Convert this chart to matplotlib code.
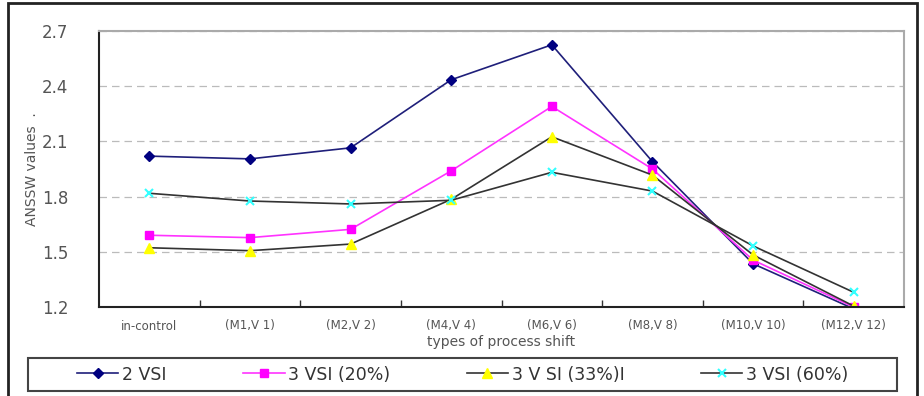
import numpy as np
import matplotlib.pyplot as plt
from matplotlib.patches import Rectangle

categories = ["in-control", "(M1,V 1)", "(M2,V 2)", "(M4,V 4)", "(M6,V 6)",
              "(M8,V 8)", "(M10,V 10)", "(M12,V 12)"]
vsi2 = [2.02, 2.005, 2.065, 2.435, 2.625, 1.99, 1.435, 1.19]
vsi3_20 = [1.59, 1.577, 1.622, 1.94, 2.29, 1.95, 1.455, 1.20]
vsi3_33 = [1.522, 1.506, 1.542, 1.785, 2.125, 1.917, 1.483, 1.205]
vsi3_60 = [1.818, 1.776, 1.76, 1.78, 1.932, 1.83, 1.532, 1.28]
labels = ["2 VSI", "3 VSI (20%)", "3 V SI (33%)I", "3 VSI (60%)"]

fig = plt.figure(figsize=(9.24, 3.96), dpi=100)
ax = fig.add_axes([99 / 924, 1 - 307 / 396, 805 / 924, 276 / 396])

x = np.arange(len(categories))
ax.plot(x, vsi2, color="#1f1f7a", lw=1.2, marker="D", ms=5,
        mfc="#000080", mec="#000080", label=labels[0])
ax.plot(x, vsi3_20, color="#ff33ff", lw=1.2, marker="s", ms=5.5,
        mfc="#ff00ff", mec="#ff00ff", label=labels[1])
ax.plot(x, vsi3_33, color="#333333", lw=1.2, marker="^", ms=6.5,
        mfc="#ffff00", mec="#ffff00", label=labels[2])
ax.plot(x, vsi3_60, color="#333333", lw=1.2, marker="x", ms=6, mew=1.5,
        mec="#33ffff", label=labels[3])

ax.set_xlim(-0.5, len(categories) - 0.5)
ax.set_ylim(1.2, 2.7)
ax.set_yticks([1.2, 1.5, 1.8, 2.1, 2.4, 2.7])
ax.set_yticklabels(["1.2", "1.5", "1.8", "2.1", "2.4", "2.7"])
ax.yaxis.grid(True, ls=(0, (6, 4)), color="#bbbbbb", lw=0.9)
ax.set_axisbelow(True)
ax.tick_params(axis="y", length=0, pad=22, labelsize=12, labelcolor="#555555")

# category labels at centres, tick marks between categories
ax.set_xticks(x)
ax.set_xticklabels(categories, fontsize=8.5, color="#555555")
ax.tick_params(axis="x", length=0, pad=9)
ax.set_xticks(np.arange(0.5, len(categories) - 1, 1), minor=True)
ax.tick_params(axis="x", which="minor", direction="in", length=5, width=1, color="#333333")

ax.spines["left"].set_color("#222222")
ax.spines["bottom"].set_color("#222222")
ax.spines["left"].set_linewidth(1.5)
ax.spines["bottom"].set_linewidth(1.5)
ax.spines["top"].set_color("#aaaaaa")
ax.spines["right"].set_color("#aaaaaa")
ax.spines["top"].set_linewidth(1.5)
ax.spines["right"].set_linewidth(1.5)

ax.set_ylabel("ANSSW values  .", fontsize=10, color="#555555")
ax.yaxis.set_label_coords(-0.075, 0.5)
ax.set_xlabel("types of process shift", fontsize=10, color="#555555", labelpad=2)

# legend: entries centred in a wide box
leg = fig.legend(loc="center", ncol=4, bbox_to_anchor=(462.5 / 924, 1 - 374.5 / 396),
                 fontsize=12.5, frameon=False, handlelength=2.4,
                 handletextpad=0.2, columnspacing=4.4)
for t in leg.get_texts():
    t.set_color("#333333")
fig.patches.append(Rectangle((28 / 924, 1 - 391 / 396), 869 / 924, 33 / 396,
                             transform=fig.transFigure, fill=False,
                             ec="#444444", lw=1.5))

fig.patches.append(Rectangle((8 / 924, -0.05), 909 / 924, 1.05 - 3 / 396,
                             transform=fig.transFigure, fill=False,
                             ec="#222222", lw=2))

fig.savefig("out.png", dpi=100)
